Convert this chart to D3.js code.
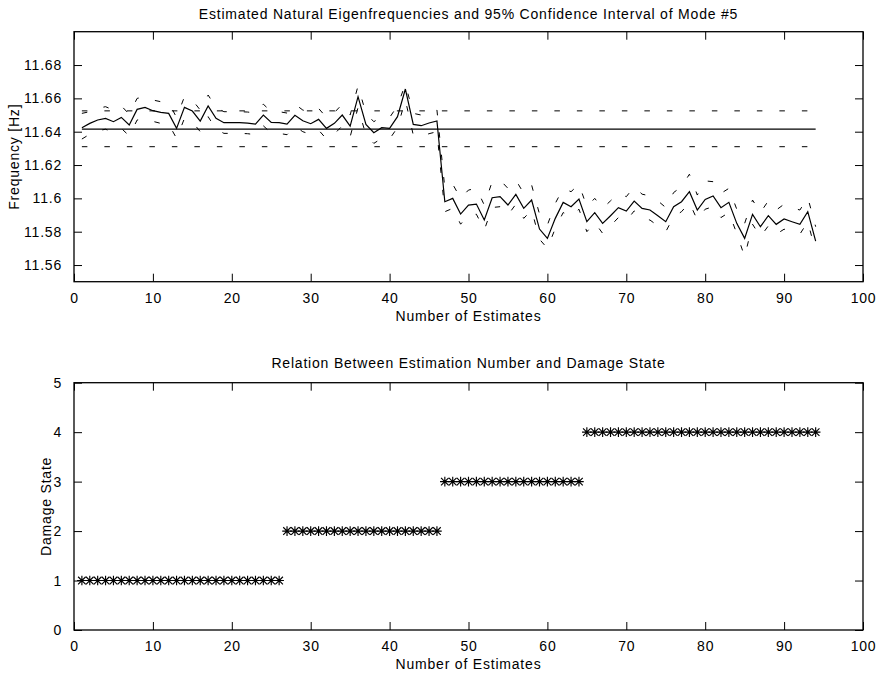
<!DOCTYPE html>
<html><head><meta charset="utf-8">
<script src="https://cdn.jsdelivr.net/npm/d3@7"></script>
<style>
body{margin:0;background:#fff}
text{font-family:Arial,"Liberation Sans",sans-serif;fill:#000;letter-spacing:0.8px}
</style>
</head><body><svg id="c" width="880" height="676"></svg>
<script>
// ---------- data ----------
const estimateNo = d3.range(1, 95);
const estimates = [
11.6424,11.6450,11.6470,11.6480,11.6460,11.6486,11.6440,11.6534,11.6546,11.6526,
11.6516,11.6510,11.6420,11.6546,11.6524,11.6464,11.6554,11.6480,11.6454,11.6454,
11.6454,11.6452,11.6446,11.6500,11.6456,11.6454,11.6446,11.6498,11.6466,11.6448,
11.6474,11.6420,11.6450,11.6500,11.6434,11.6610,11.6444,11.6394,11.6424,11.6420,
11.6490,11.6656,11.6444,11.6436,11.6452,11.6464,11.5980,11.6000,11.5906,11.5960,
11.5966,11.5870,11.6004,11.6010,11.5960,11.6024,11.5940,11.5990,11.5816,11.5760,
11.5880,11.5976,11.5950,11.5996,11.5860,11.5914,11.5850,11.5896,11.5944,11.5924,
11.5984,11.5940,11.5930,11.5896,11.5860,11.5950,11.5980,11.6040,11.5930,11.5994,
11.6014,11.5944,11.5976,11.5850,11.5760,11.5904,11.5830,11.5896,11.5844,11.5876,
11.5860,11.5844,11.5920,11.5744];
const upperBound = [
11.6510,11.6520,11.6540,11.6550,11.6530,11.6555,11.6505,11.6600,11.6610,11.6590,
11.6580,11.6575,11.6485,11.6610,11.6590,11.6530,11.6620,11.6545,11.6520,11.6520,
11.6520,11.6518,11.6512,11.6565,11.6520,11.6520,11.6512,11.6565,11.6530,11.6515,
11.6540,11.6485,11.6515,11.6565,11.6500,11.6675,11.6510,11.6460,11.6490,11.6485,
11.6555,11.6685,11.6510,11.6500,11.6518,11.6530,11.6060,11.6085,11.6000,11.6050,
11.6060,11.5960,11.6100,11.6110,11.6060,11.6110,11.6030,11.6080,11.5905,11.5840,
11.5970,11.6060,11.6040,11.6085,11.5950,11.6000,11.5940,11.5985,11.6030,11.6010,
11.6070,11.6025,11.6015,11.5985,11.5945,11.6035,11.6070,11.6145,11.6020,11.6105,
11.6100,11.6030,11.6060,11.5935,11.5850,11.5990,11.5915,11.5985,11.5930,11.5965,
11.5945,11.5930,11.6005,11.5830];
const lowerBound = [
11.6356,11.6385,11.6405,11.6415,11.6395,11.6420,11.6375,11.6470,11.6480,11.6462,
11.6450,11.6445,11.6360,11.6480,11.6460,11.6400,11.6490,11.6415,11.6390,11.6390,
11.6390,11.6388,11.6382,11.6435,11.6392,11.6390,11.6382,11.6432,11.6400,11.6384,
11.6410,11.6356,11.6386,11.6435,11.6370,11.6545,11.6380,11.6330,11.6360,11.6356,
11.6425,11.6590,11.6380,11.6372,11.6388,11.6400,11.5920,11.5940,11.5845,11.5900,
11.5905,11.5810,11.5945,11.5950,11.5900,11.5965,11.5880,11.5930,11.5755,11.5700,
11.5820,11.5915,11.5890,11.5935,11.5800,11.5855,11.5790,11.5835,11.5885,11.5865,
11.5925,11.5880,11.5870,11.5835,11.5800,11.5890,11.5920,11.5975,11.5870,11.5935,
11.5950,11.5885,11.5915,11.5790,11.5650,11.5845,11.5770,11.5835,11.5785,11.5815,
11.5800,11.5785,11.5860,11.5680];
const meanFreq = 11.6416;
const meanUpper = 11.6525;
const meanLower = 11.6310;
const damageState = [
1,1,1,1,1,1,1,1,1,1,1,1,1,1,1,1,1,1,1,1,1,1,1,1,1,1,
2,2,2,2,2,2,2,2,2,2,2,2,2,2,2,2,2,2,2,2,
3,3,3,3,3,3,3,3,3,3,3,3,3,3,3,3,3,3,
4,4,4,4,4,4,4,4,4,4,4,4,4,4,4,4,4,4,4,4,4,4,4,4,4,4,4,4,4,4];
const xTicks = [0,10,20,30,40,50,60,70,80,90,100];
const freqTicks = [11.56,11.58,11.6,11.62,11.64,11.66,11.68];
const damageTicks = [0,1,2,3,4,5];
const title1 = "Estimated Natural Eigenfrequencies and 95% Confidence Interval of Mode #5";
const title2 = "Relation Between Estimation Number and Damage State";

// ---------- layout ----------
const svg = d3.select('#c');
const L = 74, R = 863;
const P1 = {top: 31.7, bottom: 281.7};
const P2 = {top: 382.7, bottom: 630};
const x = d3.scaleLinear().domain([0, 100]).range([L, R]);
const y1 = d3.scaleLinear().domain([11.55, 11.70]).range([P1.bottom, P1.top]);
const y2 = d3.scaleLinear().domain([0, 5]).range([P2.bottom, P2.top]);
const FS = 14;
const dash = "5.5,17";

function frame(g, yScale, yTicks, P, fmt) {
  const tk = 8;
  g.append('g').attr('transform', `translate(0,${P.bottom})`)
    .call(d3.axisBottom(x).tickValues(xTicks).tickSize(-tk).tickPadding(tk + 3).tickFormat(d3.format('d')));
  g.append('g').attr('transform', `translate(0,${P.top})`)
    .call(d3.axisTop(x).tickValues(xTicks).tickSize(-tk).tickFormat(''));
  g.append('g').attr('transform', `translate(${L},0)`)
    .call(d3.axisLeft(yScale).tickValues(yTicks).tickSize(-tk).tickPadding(tk + 4).tickFormat(fmt));
  g.append('g').attr('transform', `translate(${R},0)`)
    .call(d3.axisRight(yScale).tickValues(yTicks).tickSize(-tk).tickFormat(''));
  g.selectAll('.domain').remove();
  g.selectAll('.tick line').attr('stroke', '#000').attr('stroke-width', 1);
  g.selectAll('.tick text').attr('font-size', FS).attr('font-family', 'Arial, "Liberation Sans", sans-serif').attr('fill', '#000');
  g.append('rect').attr('x', L).attr('y', P.top).attr('width', R - L).attr('height', P.bottom - P.top)
    .attr('fill', 'none').attr('stroke', '#000').attr('stroke-width', 1.3);
}

// ---------- top plot ----------
const g1 = svg.append('g');
const pts = estimateNo.map((n, i) => ({n, e: estimates[i], u: upperBound[i], l: lowerBound[i]}));
const lineOf = key => d3.line().x(d => x(d.n)).y(d => y1(d[key]));
svg.append('clipPath').attr('id', 'cp1').append('rect')
  .attr('x', L).attr('y', P1.top).attr('width', R - L).attr('height', P1.bottom - P1.top);
const plot1 = g1.append('g').attr('clip-path', 'url(#cp1)');
plot1.append('path').datum(pts).attr('d', lineOf('u')).attr('fill', 'none').attr('stroke', '#000').attr('stroke-width', 1).attr('stroke-dasharray', dash);
plot1.append('path').datum(pts).attr('d', lineOf('l')).attr('fill', 'none').attr('stroke', '#000').attr('stroke-width', 1).attr('stroke-dasharray', dash);
plot1.append('path').datum(pts).attr('d', lineOf('e')).attr('fill', 'none').attr('stroke', '#000').attr('stroke-width', 1.2);
const n0 = estimateNo[0], n1 = estimateNo[estimateNo.length - 1];
plot1.append('line').attr('x1', x(n0)).attr('x2', x(n1)).attr('y1', y1(meanFreq)).attr('y2', y1(meanFreq)).attr('stroke', '#000').attr('stroke-width', 1.2);
[meanUpper, meanLower].forEach(v => {
  plot1.append('line').attr('x1', x(n0)).attr('x2', x(n1)).attr('y1', y1(v)).attr('y2', y1(v))
    .attr('stroke', '#000').attr('stroke-width', 1).attr('stroke-dasharray', dash);
});
frame(g1, y1, freqTicks, P1, d => String(+d.toFixed(2)));

svg.append('text').attr('x', (L + R) / 2).attr('y', 19).attr('text-anchor', 'middle').attr('font-size', FS).text(title1);
svg.append('text').attr('x', (L + R) / 2).attr('y', 321).attr('text-anchor', 'middle').attr('font-size', FS).text('Number of Estimates');
svg.append('text').attr('transform', `translate(19,${(P1.top + P1.bottom) / 2}) rotate(-90)`).attr('text-anchor', 'middle').attr('font-size', FS).text('Frequency [Hz]');

// ---------- bottom plot ----------
const g2 = svg.append('g');
frame(g2, y2, damageTicks, P2, d3.format('d'));
const s = 4.8, sd = 3.8;
const star = `M${-s},0L${s},0M0,${-s}L0,${s}M${-sd},${-sd}L${sd},${sd}M${-sd},${sd}L${sd},${-sd}`;
g2.append('g').selectAll('path').data(estimateNo.map((n, i) => ({n, d: damageState[i]})))
  .join('path').attr('transform', d => `translate(${x(d.n)},${y2(d.d)})`)
  .attr('d', star).attr('fill', 'none').attr('stroke', '#000').attr('stroke-width', 1.15);

svg.append('text').attr('x', (L + R) / 2).attr('y', 368).attr('text-anchor', 'middle').attr('font-size', FS).text(title2);
svg.append('text').attr('x', (L + R) / 2).attr('y', 669).attr('text-anchor', 'middle').attr('font-size', FS).text('Number of Estimates');
svg.append('text').attr('transform', `translate(51,${(P2.top + P2.bottom) / 2}) rotate(-90)`).attr('text-anchor', 'middle').attr('font-size', FS).text('Damage State');
</script></body></html>
